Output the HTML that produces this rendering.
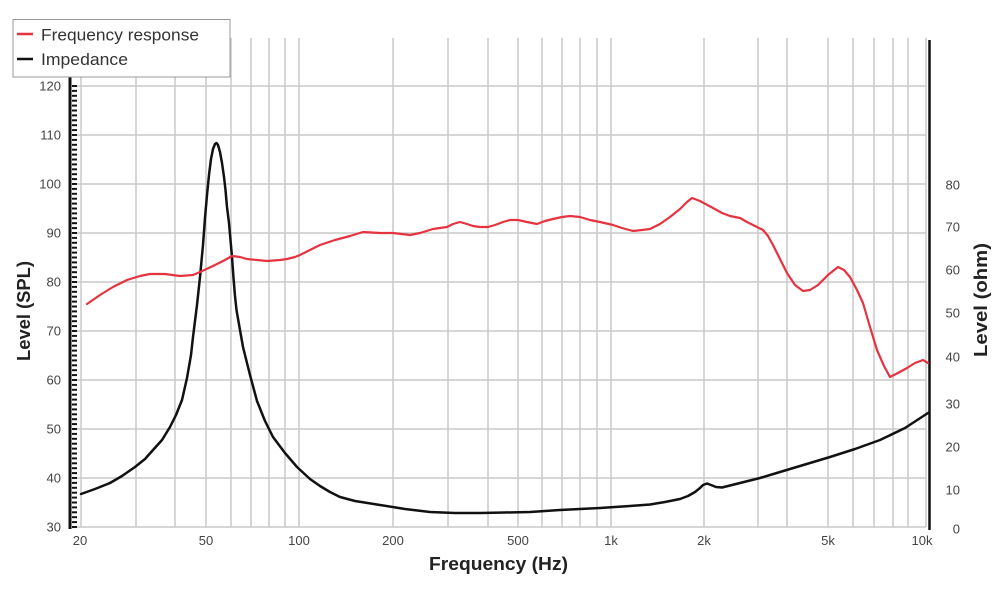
<!DOCTYPE html>
<html>
<head>
<meta charset="utf-8">
<style>
html,body{margin:0;padding:0;background:#fff;}
body{width:1000px;height:600px;overflow:hidden;}
svg{display:block;}
text{font-family:"Liberation Sans",Arial,sans-serif;}
</style>
</head>
<body>
<svg width="1000" height="600" viewBox="0 0 1000 600" xmlns="http://www.w3.org/2000/svg">
<defs>
<pattern id="tk" x="0" y="526" width="10" height="4.9" patternUnits="userSpaceOnUse">
<rect x="0" y="0" width="10" height="2" fill="#111"/>
</pattern>
</defs>
<rect width="1000" height="600" fill="#fff"/>

<!-- vertical grid -->
<g stroke="#c9c9c9" stroke-width="1.5">
<path d="M81 38V527 M136 38V527 M175 38V527 M206 38V527 M231 38V527 M251 38V527 M269 38V527 M285 38V527 M299 38V527
M393 38V527 M448 38V527 M488 38V527 M518 38V527 M542 38V527 M562 38V527 M580 38V527 M597 38V527 M611 38V527
M704 38V527 M758 38V527 M787 38V527 M828 38V527 M853 38V527 M874 38V527 M893 38V527 M908 38V527 M926 38V527"/>
</g>
<!-- horizontal grid -->
<g stroke="#c9c9c9" stroke-width="1.5">
<path d="M77 527H926 M77 478H926 M77 429H926 M77 380H926 M77 331H926 M77 282H926 M77 233H926 M77 184H926 M77 135H926 M77 86H926"/>
</g>

<!-- left axis -->
<rect x="72" y="85" width="5" height="443.5" fill="url(#tk)"/>
<line x1="70" y1="77" x2="70" y2="529" stroke="#111" stroke-width="3"/>
<!-- right axis -->
<line x1="929.5" y1="40" x2="929.5" y2="530" stroke="#111" stroke-width="2.5"/>

<!-- left labels -->
<g font-size="13" fill="#444" text-anchor="end">
<text x="61" y="531.5">30</text>
<text x="61" y="482.5">40</text>
<text x="61" y="433.5">50</text>
<text x="61" y="384.5">60</text>
<text x="61" y="335.5">70</text>
<text x="61" y="286.5">80</text>
<text x="61" y="237.5">90</text>
<text x="61" y="188.5">100</text>
<text x="61" y="139.5">110</text>
<text x="61" y="90.5">120</text>
</g>
<!-- right labels -->
<g font-size="13" fill="#444" text-anchor="end">
<text x="960" y="533.5">0</text>
<text x="960" y="494.5">10</text>
<text x="960" y="451.5">20</text>
<text x="960" y="408.5">30</text>
<text x="960" y="361.5">40</text>
<text x="960" y="317.5">50</text>
<text x="960" y="274.5">60</text>
<text x="960" y="231.5">70</text>
<text x="960" y="189.5">80</text>
</g>
<!-- bottom labels -->
<g font-size="13" fill="#444" text-anchor="middle">
<text x="80" y="545">20</text>
<text x="206" y="545">50</text>
<text x="299" y="545">100</text>
<text x="393" y="545">200</text>
<text x="518" y="545">500</text>
<text x="611" y="545">1k</text>
<text x="704" y="545">2k</text>
<text x="828" y="545">5k</text>
<text x="922" y="545">10k</text>
</g>

<!-- axis titles -->
<text x="498.5" y="570" font-size="18" font-weight="bold" fill="#222" text-anchor="middle" textLength="139" lengthAdjust="spacingAndGlyphs">Frequency (Hz)</text>
<text transform="translate(30,311) rotate(-90)" font-size="18" font-weight="bold" fill="#222" text-anchor="middle" textLength="100" lengthAdjust="spacingAndGlyphs">Level (SPL)</text>
<text transform="translate(987,300) rotate(-90)" font-size="18" font-weight="bold" fill="#222" text-anchor="middle" textLength="114" lengthAdjust="spacingAndGlyphs">Level (ohm)</text>

<!-- impedance curve -->
<polyline fill="none" stroke="#111" stroke-width="2.5" stroke-linejoin="round" stroke-linecap="round"
points="81,494 95,489 110,483 122,476 135,467 145,459 153,450 162,440 170,427 176,415 182,400 187,378 191,355 193,337 197,305 200,277 203,245 205,218 207,195 209,175 211,159 213,149 215,144 216.5,143 218,145 220,152 222,163 224,177 225.5,190 227,207 229,223 230.5,240 232,257 233.5,278 235,296 236.5,310 240,330 243,347 250,375 257,401 265,421 273,437 285,453 297,467 310,479 320,486 330,492 340,497 355,501 380,505 405,509 430,512 455,513 480,513 505,512.5 530,512 560,510 600,508 630,506 650,504.5 665,502 680,499 688,496 695,492 700,488 703,485 707,483.5 711,485 716,487 722,487.5 730,485.5 740,483 760,478 780,472 800,466 830,457 855,449 880,440 905,428 928,413"/>

<!-- frequency response curve -->
<polyline fill="none" stroke="#e5333f" stroke-width="2.2" stroke-linejoin="round" stroke-linecap="round"
points="87,304 100,295 113,287 127,280 140,276 150,274 165,274 180,276 193,275 200,272 213,266 225,260 232,256 240,257 247,259 257,260 267,261 280,260 287,259 295,257 300,255 310,250 320,245 335,240 350,236 363,232 380,233 393,233 410,235 420,233 433,229 447,227 453,224 460,222 467,224 473,226 480,227 488,227 495,225 503,222 510,220 518,220 527,222 537,224 545,221 553,219 562,217 570,216 580,217 590,220 600,222 613,225 622,228 633,231 642,230 650,229 660,224 670,217 680,209 687,202 692,198 700,201 713,208 722,213 730,216 740,218 747,222 753,225 763,230 768,236 773,245 780,259 787,273 795,285 803,291 810,290 818,285 828,275 838,267 844,270 850,277 857,290 863,303 870,327 877,350 884,366 890,377 898,373 907,368 915,363 923,360 928,363"/>

<!-- legend -->
<rect x="13" y="19.5" width="217" height="57.5" fill="#fff" stroke="#999" stroke-width="1"/>
<line x1="17" y1="34" x2="33" y2="34" stroke="#e5333f" stroke-width="2.5"/>
<line x1="17" y1="59" x2="33" y2="59" stroke="#111" stroke-width="2.5"/>
<text x="41" y="40.5" font-size="16.5" fill="#333" textLength="158" lengthAdjust="spacingAndGlyphs">Frequency response</text>
<text x="41" y="65" font-size="16.5" fill="#333" textLength="87" lengthAdjust="spacingAndGlyphs">Impedance</text>
</svg>
</body>
</html>
